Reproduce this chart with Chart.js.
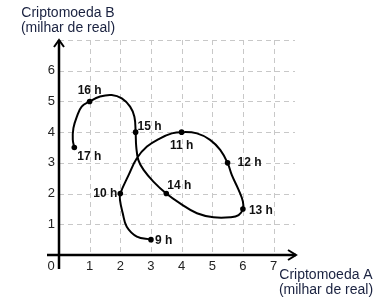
<!DOCTYPE html>
<html>
<head>
<meta charset="utf-8">
<script src="https://cdn.jsdelivr.net/npm/chart.js@4/dist/chart.umd.min.js"></script>
<style>
  html, body { margin: 0; padding: 0; background: #fff; }
  #wrap { width: 382px; height: 302px; }
</style>
</head>
<body>
<div id="wrap"><canvas id="myChart" width="382" height="302"></canvas></div>
<script>
// horas marcadas no gráfico (valores em milhar de real)
const hourLabels = ['9 h', '10 h', '11 h', '12 h', '13 h', '14 h', '15 h', '16 h', '17 h'];
const hourA = [3, 2, 4, 5.5, 6, 3.5, 2.5, 1, 0.5];
const hourB = [0.5, 2, 4, 3, 1.5, 2, 4, 5, 3.5];

// trajetória, das 9 h às 17 h
const pathA = [3, 2.54, 2.21, 2.08, 1.99, 2, 2.27, 2.54, 2.87, 3.3, 3.68, 4, 4.5, 4.93, 5.26, 5.5,
  5.64, 5.86, 6, 6, 5.86, 5.59, 5.04, 4.5, 3.95, 3.5, 3.08, 2.76, 2.59, 2.52, 2.5,
  2.46, 2.32, 2.05, 1.72, 1.34, 1, 0.74, 0.58, 0.47, 0.45, 0.5];
const pathB = [0.5, 0.6, 0.92, 1.36, 1.79, 2, 2.6, 3.15, 3.53, 3.8, 3.96, 4, 3.96, 3.75, 3.42, 3,
  2.6, 2.12, 1.74, 1.5, 1.3, 1.23, 1.23, 1.36, 1.68, 2, 2.39, 2.77, 3.09, 3.53, 4,
  4.5, 4.83, 5.1, 5.21, 5.16, 5, 4.83, 4.5, 4.13, 3.75, 3.5];

const xTicks = [0, 1, 2, 3, 4, 5, 6, 7];
const yTicks = [1, 2, 3, 4, 5, 6];
const gridX = [1, 2, 3, 4, 5, 6, 7];
const gridY = [1, 2, 3, 4, 5, 6, 7];

const titleB = ['Criptomoeda B', '(milhar de real)'];
const titleA = ['Criptomoeda A', '(milhar de real)'];

// onde cada rótulo fica em relação ao ponto
const labelPlace = [
  { dx: 4, dy: 1, align: 'left' },
  { dx: -3, dy: 0, align: 'right' },
  { dx: 0, dy: 14, align: 'center' },
  { dx: 10, dy: 0, align: 'left' },
  { dx: 6, dy: 2, align: 'left' },
  { dx: 1, dy: -8, align: 'left' },
  { dx: 2, dy: -5, align: 'left' },
  { dx: 0, dy: -11, align: 'center' },
  { dx: 3, dy: 9, align: 'left' }
];

const textColor = '#1a2240';

const decor = {
  id: 'decor',
  beforeDatasetsDraw(chart) {
    const ctx = chart.ctx;
    const x = chart.scales.x, y = chart.scales.y;
    const area = chart.chartArea;
    ctx.save();
    ctx.strokeStyle = '#c8c8c8';
    ctx.lineWidth = 1;
    ctx.setLineDash([5, 4]);
    gridX.forEach(v => {
      const px = Math.round(x.getPixelForValue(v)) + 0.5;
      ctx.beginPath();
      ctx.moveTo(px, area.top);
      ctx.lineTo(px, area.bottom);
      ctx.stroke();
    });
    gridY.forEach(v => {
      const py = Math.round(y.getPixelForValue(v)) + 0.5;
      ctx.beginPath();
      ctx.moveTo(area.left, py);
      ctx.lineTo(area.right, py);
      ctx.stroke();
    });
    ctx.restore();
  },
  afterDraw(chart) {
    const ctx = chart.ctx;
    const x = chart.scales.x, y = chart.scales.y;
    const area = chart.chartArea;
    const x0 = x.getPixelForValue(0), y0 = y.getPixelForValue(0);
    ctx.save();
    // eixos com setas
    ctx.strokeStyle = '#000';
    ctx.lineWidth = 2.5;
    ctx.lineCap = 'butt';
    ctx.beginPath();
    ctx.moveTo(x0, y0 + 14);
    ctx.lineTo(x0, area.top);
    ctx.moveTo(x0 - 12, y0);
    ctx.lineTo(area.right + 1, y0);
    ctx.stroke();
    ctx.lineWidth = 2;
    ctx.beginPath();
    ctx.moveTo(x0 - 5, area.top + 7);
    ctx.lineTo(x0, area.top);
    ctx.lineTo(x0 + 5, area.top + 7);
    ctx.moveTo(area.right - 7, y0 - 5);
    ctx.lineTo(area.right + 1, y0);
    ctx.lineTo(area.right - 7, y0 + 5);
    ctx.stroke();

    // números dos eixos
    ctx.fillStyle = '#222';
    ctx.font = '13px "Liberation Sans", Arial, sans-serif';
    ctx.textBaseline = 'middle';
    ctx.textAlign = 'center';
    xTicks.forEach(v => {
      const px = v === 0 ? x0 - 8 : x.getPixelForValue(v);
      ctx.fillText(String(v), px, y0 + 11);
    });
    ctx.textAlign = 'right';
    yTicks.forEach(v => {
      ctx.fillText(String(v), x0 - 4, y.getPixelForValue(v));
    });

    // rótulos das horas
    ctx.fillStyle = '#111';
    ctx.font = 'bold 12px "Liberation Sans", Arial, sans-serif';
    const meta = chart.getDatasetMeta(1);
    meta.data.forEach((pt, i) => {
      const p = labelPlace[i];
      ctx.textAlign = p.align;
      ctx.fillText(hourLabels[i], pt.x + p.dx, pt.y + p.dy);
    });

    // títulos dos eixos
    ctx.fillStyle = textColor;
    ctx.font = '14px "Liberation Sans", Arial, sans-serif';
    ctx.textAlign = 'center';
    ctx.textBaseline = 'alphabetic';
    ctx.fillText(titleB[0], 68, 17);
    ctx.fillText(titleB[1], 68, 32);
    ctx.fillText(titleA[0], 326, 279);
    ctx.fillText(titleA[1], 326, 294);
    ctx.restore();
  }
};

const ctx = document.getElementById('myChart');
const myChart = new Chart(ctx, {
  type: 'scatter',
  data: {
    datasets: [{
      data: pathA.map((v, i) => ({ x: v, y: pathB[i] })),
      showLine: true,
      tension: 0.4,
      borderColor: '#000',
      borderWidth: 2,
      pointRadius: 0,
      fill: false
    }, {
      data: hourA.map((v, i) => ({ x: v, y: hourB[i] })),
      showLine: false,
      pointRadius: 2.8,
      pointBackgroundColor: '#000',
      pointBorderWidth: 0
    }]
  },
  options: {
    responsive: false,
    animation: false,
    layout: { padding: { left: 59, right: 87, top: 40, bottom: 47 } },
    plugins: {
      legend: { display: false },
      tooltip: { enabled: false }
    },
    scales: {
      x: {
        type: 'linear',
        min: 0,
        max: 7.7,
        grid: { display: false, drawTicks: false },
        border: { display: false },
        ticks: { display: false },
        afterFit(s) { s.height = 0; }
      },
      y: {
        type: 'linear',
        min: 0,
        max: 7,
        grid: { display: false, drawTicks: false },
        border: { display: false },
        ticks: { display: false },
        afterFit(s) { s.width = 0; }
      }
    }
  },
  plugins: [decor]
});
</script>
</body>
</html>
